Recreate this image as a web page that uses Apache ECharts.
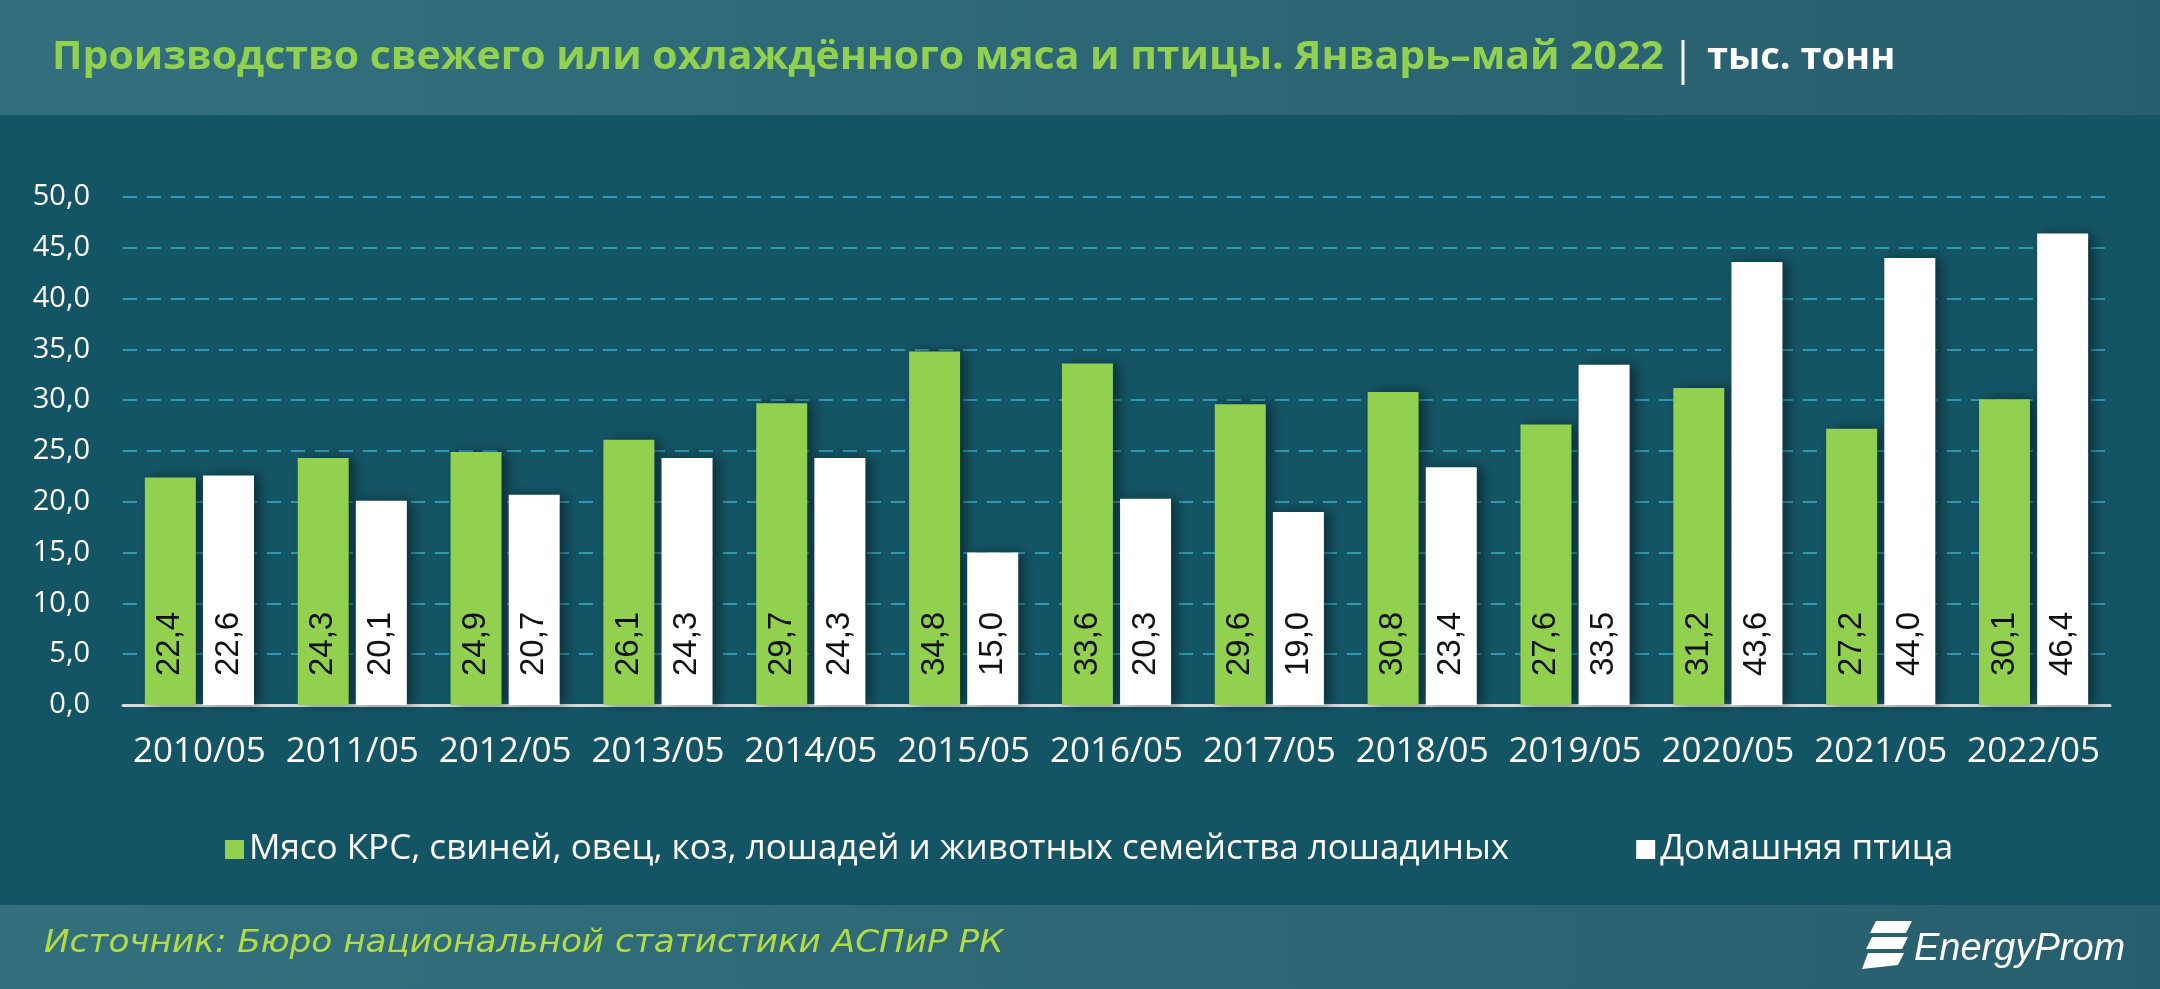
<!DOCTYPE html>
<html>
<head>
<meta charset="utf-8">
<script src="https://cdn.jsdelivr.net/npm/echarts@6/dist/echarts.min.js"></script>
<style>
html,body{margin:0;padding:0;background:#145565;}
#chart{width:2160px;height:989px;}
</style>
</head>
<body>
<div id="chart"></div>
<script>
const categories = ['2010/05','2011/05','2012/05','2013/05','2014/05','2015/05','2016/05','2017/05','2018/05','2019/05','2020/05','2021/05','2022/05'];
const meatValues = [22.4, 24.3, 24.9, 26.1, 29.7, 34.8, 33.6, 29.6, 30.8, 27.6, 31.2, 27.2, 30.1];
const poultryValues = [22.6, 20.1, 20.7, 24.3, 24.3, 15.0, 20.3, 19.0, 23.4, 33.5, 43.6, 44.0, 46.4];
const seriesNames = ['Мясо КРС, свиней, овец, коз, лошадей и животных семейства лошадиных', 'Домашняя птица'];
const titleText = 'Производство свежего или охлаждённого мяса и птицы. Январь–май 2022';
const unitText = 'тыс. тонн';
const sourceText = 'Источник: Бюро национальной статистики АСПиР РК';

const fmt = v => v.toFixed(1).replace('.', ',');
const chart = echarts.init(document.getElementById('chart'), null, {renderer: 'canvas'});

const barLabel = {
  show: true,
  position: 'insideBottom',
  rotate: 90,
  align: 'left',
  verticalAlign: 'middle',
  distance: 29,
  color: '#111',
  fontFamily: 'Liberation Sans',
  fontSize: 33,
  formatter: p => fmt(p.value)
};

const option = {
  backgroundColor: '#145565',
  animation: false,
  graphic: [
    {type: 'rect', left: 0, top: 0, z: -10, shape: {width: 2160, height: 115},
     style: {fill: new echarts.graphic.LinearGradient(0, 0, 1, 0, [{offset: 0, color: '#33707e'}, {offset: 1, color: '#285f6e'}])}},
    {type: 'rect', left: 0, top: 905, z: -10, shape: {width: 2160, height: 84},
     style: {fill: new echarts.graphic.LinearGradient(0, 0, 1, 0, [{offset: 0, color: '#33707e'}, {offset: 1, color: '#285f6e'}])}},
    {type: 'text', x: 52, y: 38, scaleX: 1.05, style: {text: titleText, fill: '#92d050', font: 'bold 39px "Open Sans"'}},
    {type: 'line', shape: {x1: 1683, y1: 40, x2: 1683, y2: 85}, style: {stroke: '#ffffff', lineWidth: 3}},
    {type: 'text', x: 1707, y: 39, style: {text: unitText, fill: '#ffffff', font: 'bold 38px "Open Sans"'}},
    {type: 'text', x: 44, y: 928, scaleX: 1.07, style: {text: sourceText, fill: '#b2dc46', font: 'italic 32px "DejaVu Sans"'}},
    {type: 'polygon', shape: {points: [[1876, 921], [1912, 921], [1906, 933], [1870, 933]]}, style: {fill: '#ffffff'}},
    {type: 'polygon', shape: {points: [[1872, 937], [1908, 937], [1902, 949], [1866, 949]]}, style: {fill: '#ffffff'}},
    {type: 'polygon', shape: {points: [[1868, 953], [1904, 953], [1898, 965], [1862, 969]]}, style: {fill: '#ffffff'}},
    {type: 'text', x: 1914, y: 930, style: {text: 'EnergyProm', fill: '#ffffff', font: 'italic 38px "Liberation Sans"'}}
  ],
  legend: {
    left: 220,
    top: 827,
    icon: 'rect',
    itemWidth: 19,
    itemHeight: 19,
    itemGap: 127,
    textStyle: {color: '#ffffff', fontFamily: 'Open Sans', fontSize: 35},
    data: seriesNames
  },
  grid: {left: 123, right: 50, top: 197, bottom: 284, containLabel: false},
  xAxis: {
    type: 'category',
    data: categories,
    axisLine: {lineStyle: {color: '#d9d9d9', width: 3}},
    axisTick: {show: false},
    axisLabel: {color: '#ffffff', fontFamily: 'Open Sans', fontSize: 35, margin: 30, interval: 0}
  },
  yAxis: {
    type: 'value',
    min: 0,
    max: 50,
    interval: 5,
    axisLine: {show: false},
    axisTick: {show: false},
    axisLabel: {color: '#ffffff', fontFamily: 'Open Sans', fontSize: 29, margin: 33, formatter: v => fmt(v)},
    splitLine: {lineStyle: {color: '#2f9ab5', width: 2, type: [14, 10]}}
  },
  series: [
    {
      name: seriesNames[0],
      type: 'bar',
      data: meatValues,
      barWidth: 51,
      barGap: '14%',
      itemStyle: {color: '#92d050', shadowColor: 'rgba(0,0,0,0.45)', shadowBlur: 12, shadowOffsetX: 6},
      label: barLabel
    },
    {
      name: seriesNames[1],
      type: 'bar',
      data: poultryValues,
      barWidth: 51,
      itemStyle: {color: '#ffffff', shadowColor: 'rgba(0,0,0,0.45)', shadowBlur: 12, shadowOffsetX: 6},
      label: barLabel
    }
  ]
};
chart.setOption(option);
</script>
</body>
</html>
